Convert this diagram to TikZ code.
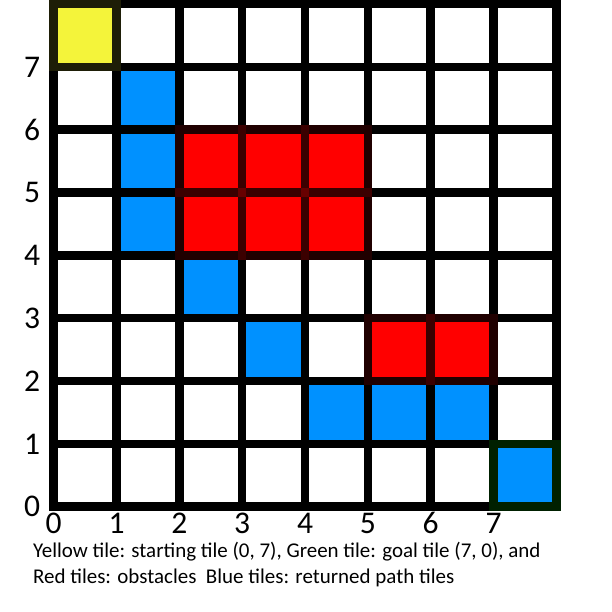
\documentclass[tikz,border=0pt]{standalone}
\usepackage{fontspec}
\setmainfont{Carlito}
\usepackage{xcolor}
\usepackage{tikz}
\usetikzlibrary{positioning}
\definecolor{tileyellow}{HTML}{F4F43A}
\definecolor{tilered}{HTML}{FF0000}
\definecolor{tileblue}{HTML}{0091FF}
\definecolor{tilegreen}{HTML}{00FF00}
\def\hl{0.0675}
\tikzset{
    gridline/.style={
        draw=black, line width=0.135cm, line cap=rect
    },
    tint/.style={
        fill=#1, fill opacity=0.125
    },
    tilefill/.style={
        fill=#1
    },
    axislabel/.style={
        font=\fontsize{14.3}{17}\selectfont, inner sep=0pt
    },
    caption/.style={
        font=\fontsize{9.5}{11.6}\selectfont, align=left,
        inner sep=0pt, anchor=base west
    },
}

\begin{document}
\begin{tikzpicture}[x=1cm, y=1cm]

    % Canvas
    \fill[white] (-0.855,-1.676) rectangle (8.886,8.065);
    \useasboundingbox (-0.855,-1.676) rectangle (8.886,8.065);

    % Grid
    \draw[gridline] (0,0) grid (8,8);

    % Tinted tile frames (over the grid lines)
    \fill[tint=tileyellow] (0-\hl,7-\hl) rectangle (1+\hl,8+\hl);
    \fill[tint=tilegreen] (7-\hl,0-\hl) rectangle (8+\hl,1+\hl);
    \foreach \c/\r in {2/5,3/5,4/5,2/4,3/4,4/4,5/2,6/2}
        \fill[tint=tilered] (\c-\hl,\r-\hl) rectangle (\c+1+\hl,\r+1+\hl);

    % Tile interiors
    \fill[tilefill=tileyellow] (0+\hl,7+\hl) rectangle (1-\hl,8-\hl);
    \foreach \c/\r in {2/5,3/5,4/5,2/4,3/4,4/4,5/2,6/2}
        \fill[tilefill=tilered] (\c+\hl,\r+\hl) rectangle (\c+1-\hl,\r+1-\hl);
    \foreach \c/\r in {1/6,1/5,1/4,2/3,3/2,4/1,5/1,6/1,7/0}
        \fill[tilefill=tileblue] (\c+\hl,\r+\hl) rectangle (\c+1-\hl,\r+1-\hl);

    % Axis labels
    \foreach \i in {0,...,7} {
        \node[axislabel] (xl\i) at (\i,-0.26) {\i};
        \node[axislabel] (yl\i) at (-0.345,\i) {\i};
    }

    % Caption (anchored on the baseline of its last line)
    \node[caption] (cap) at (-0.335,-1.219)
        {Yellow tile: starting tile (0, 7), Green tile: goal tile (7, 0), and\\
         Red tiles: obstacles\ \ Blue tiles: returned path tiles};

\end{tikzpicture}
\end{document}
